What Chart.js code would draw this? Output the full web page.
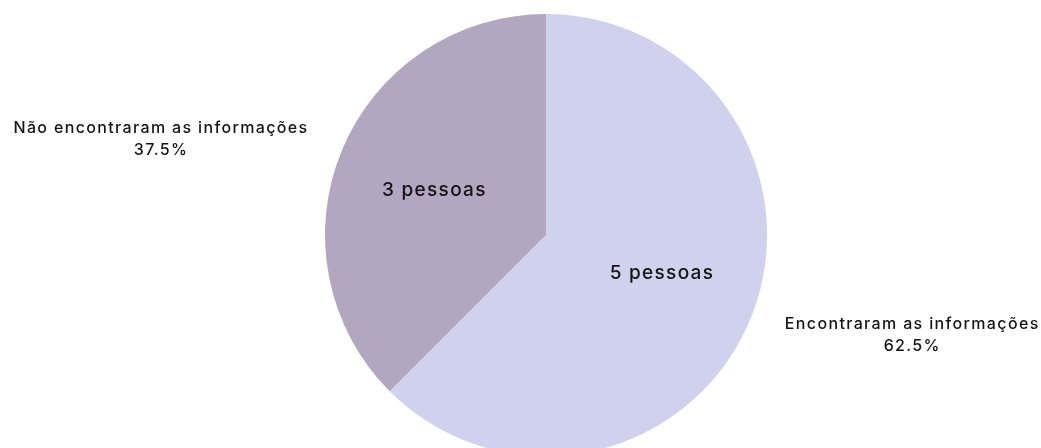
<!DOCTYPE html>
<html>
<head>
<meta charset="utf-8">
<script src="https://cdn.jsdelivr.net/npm/chart.js@4"></script>
<style>
  html, body { margin: 0; padding: 0; background: #fff; overflow: hidden; }
  #wrap { width: 1041px; height: 470px; position: relative; }
</style>
</head>
<body>
<div id="wrap"><canvas id="pie"></canvas></div>
<script>
// Data
const categories = ['Encontraram as informações', 'Não encontraram as informações'];
const counts = [5, 3];
const sliceLabels = ['5 pessoas', '3 pessoas'];
const colors = ['#D0D1EC', '#B3A6C0'];

const total = counts.reduce((a, b) => a + b, 0);
const FONT = 'Inter, "Noto Sans", sans-serif';

// small nudges for the inside labels, [dx, dy]
const innerNudge = [[3, -8], [0, 2]];

function drawSpaced(ctx, text, x, y, spacing) {
    ctx.letterSpacing = spacing + 'px';
    // letterSpacing adds a trailing gap, shift back by half of it
    ctx.fillText(text, x + spacing / 2, y);
}

// Draws the counts inside each slice and the category + percent outside
const pieLabels = {
    id: 'pieLabels',
    afterDatasetsDraw(chart) {
        const { ctx } = chart;
        const meta = chart.getDatasetMeta(0);
        ctx.save();
        ctx.fillStyle = '#141414';
        ctx.textBaseline = 'middle';
        ctx.textAlign = 'center';
        meta.data.forEach((arc, i) => {
            const mid = (arc.startAngle + arc.endAngle) / 2;
            const cos = Math.cos(mid), sin = Math.sin(mid);
            const R = arc.outerRadius;

            // inside label
            ctx.font = '500 19px ' + FONT;
            drawSpaced(ctx, sliceLabels[i],
                arc.x + cos * R * 0.55 + innerNudge[i][0],
                arc.y + sin * R * 0.55 + innerNudge[i][1], 1.3);

            // outside label
            ctx.font = '500 16px ' + FONT;
            ctx.letterSpacing = '1.35px';
            const pct = (counts[i] / total * 100).toFixed(1) + '%';
            const w = ctx.measureText(categories[i]).width;
            const side = cos >= 0 ? 1 : -1;
            const px = arc.x + cos * R + side * (34 + w / 2);
            const py = arc.y + sin * R + (side > 0 ? 16 : -11);
            drawSpaced(ctx, categories[i], px, py - 11, 1.35);
            drawSpaced(ctx, pct, px, py + 11, 1.35);
        });
        ctx.restore();
    }
};

new Chart(document.getElementById('pie'), {
    type: 'pie',
    data: {
        labels: categories,
        datasets: [{
            data: counts,
            backgroundColor: colors,
            borderWidth: 0
        }]
    },
    options: {
        responsive: true,
        maintainAspectRatio: false,
        animation: false,
        layout: { padding: { top: 14, bottom: 14, left: 51 } },
        plugins: {
            legend: { display: false },
            tooltip: { enabled: false }
        }
    },
    plugins: [pieLabels]
});
</script>
</body>
</html>
